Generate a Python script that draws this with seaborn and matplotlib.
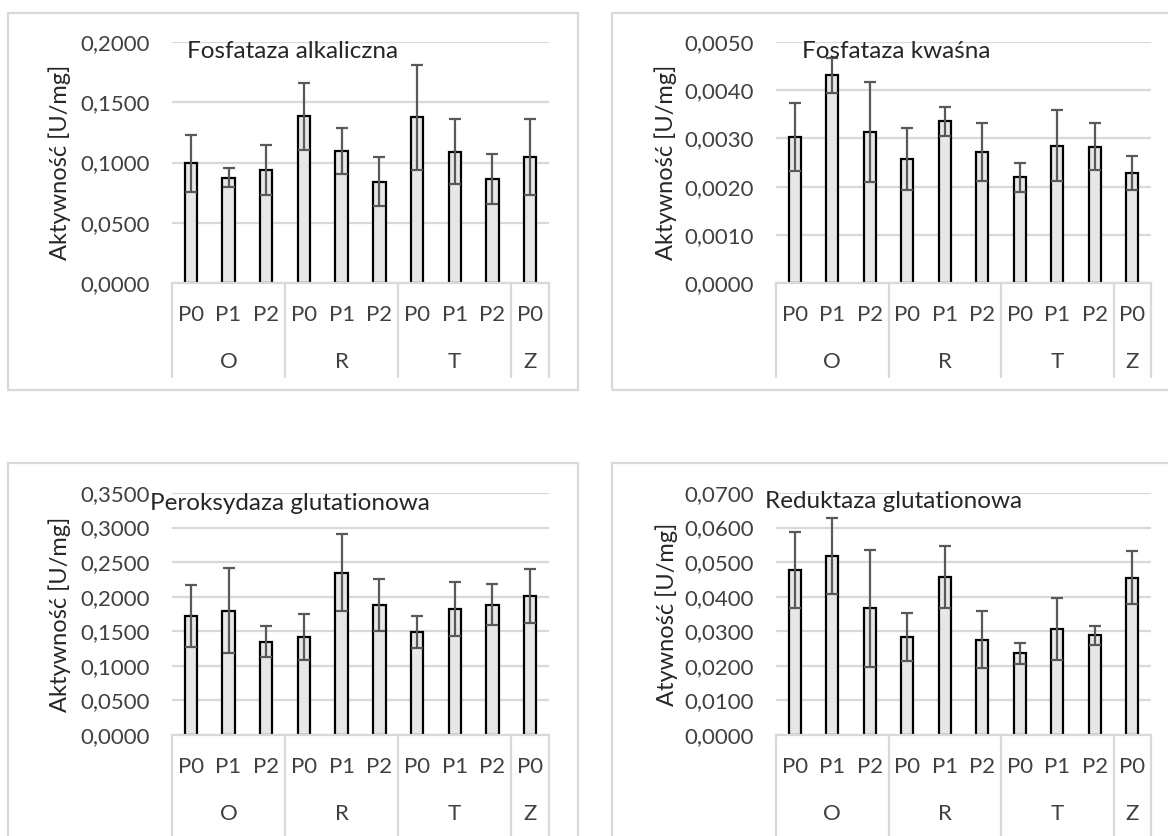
import numpy as np
import pandas as pd
import matplotlib
matplotlib.use("Agg")
import matplotlib.pyplot as plt
from matplotlib.patches import Rectangle
import seaborn as sns

# Categories (two-level axis, Excel style)
groups = ["O", "O", "O", "R", "R", "R", "T", "T", "T", "Z"]
subs = ["P0", "P1", "P2", "P0", "P1", "P2", "P0", "P1", "P2", "P0"]

# Fosfataza alkaliczna
alk_mean = [0.0993, 0.0874, 0.0938, 0.1385, 0.1098, 0.0841, 0.1374, 0.1090, 0.0863, 0.1048]
alk_sd = [0.0235, 0.0080, 0.0205, 0.0278, 0.0192, 0.0205, 0.0437, 0.0272, 0.0210, 0.0315]

# Fosfataza kwaśna
kw_mean = [0.00303, 0.00431, 0.00314, 0.00257, 0.00336, 0.00272, 0.00219, 0.00285, 0.00283, 0.00228]
kw_sd = [0.00070, 0.00036, 0.00104, 0.00065, 0.00030, 0.00060, 0.00031, 0.00073, 0.00048, 0.00035]

# Peroksydaza glutationowa
gpx_mean = [0.1719, 0.1796, 0.1348, 0.1420, 0.2349, 0.1887, 0.1492, 0.1829, 0.1887, 0.2012]
gpx_sd = [0.0447, 0.0616, 0.0226, 0.0330, 0.0559, 0.0376, 0.0236, 0.0390, 0.0296, 0.0390]

# Reduktaza glutationowa
gr_mean = [0.0477, 0.0517, 0.0366, 0.0284, 0.0458, 0.0276, 0.0236, 0.0306, 0.0288, 0.0455]
gr_sd = [0.0111, 0.0110, 0.0168, 0.0070, 0.0090, 0.0082, 0.0031, 0.0090, 0.0027, 0.0077]

sns.set_theme(style="white")
plt.rcParams['font.family'] = ['Lato', 'DejaVu Sans']

GRID = "#d9d9d9"
TICK_FS = 16
TITLE_FS = 17.5
LABEL_FS = 16

fig = plt.figure(figsize=(11.68, 8.36), dpi=100)

def px(x0, y_top, x1, y_bot):
    # pixel box -> figure fraction [left, bottom, width, height]
    W, H = 1168, 836
    return [x0 / W, 1 - y_bot / H, (x1 - x0) / W, (y_bot - y_top) / H]

panels = [
    dict(mean=alk_mean, sd=alk_sd, title="Fosfataza alkaliczna", ylabel="Aktywność [U/mg]",
         ymax=0.2, step=0.05, box=px(172, 42, 549, 283), frame=px(8, 13, 578, 390),
         tx=187, ty=52, ylx=60, sep=94),
    dict(mean=kw_mean, sd=kw_sd, title="Fosfataza kwaśna", ylabel="Aktywność [U/mg]",
         ymax=0.005, step=0.001, box=px(776, 42, 1151, 283), frame=px(612, 13, 1190, 390),
         tx=802, ty=52, ylx=666, sep=94),
    dict(mean=gpx_mean, sd=gpx_sd, title="Peroksydaza glutationowa", ylabel="Aktywność [U/mg]",
         ymax=0.35, step=0.05, box=px(172, 493, 549, 735), frame=px(8, 463, 578, 900),
         tx=150, ty=503, ylx=60, sep=120),
    dict(mean=gr_mean, sd=gr_sd, title="Reduktaza glutationowa", ylabel="Atywność [U/mg]",
         ymax=0.07, step=0.01, box=px(776, 493, 1151, 735), frame=px(612, 463, 1190, 900),
         tx=765, ty=502, ylx=667, sep=120),
]

for p in panels:
    # panel frame
    fig.add_artist(Rectangle((p["frame"][0], p["frame"][1]), p["frame"][2], p["frame"][3],
                             transform=fig.transFigure, fill=False, edgecolor=GRID, lw=1.6))

    ax = fig.add_axes(p["box"])
    df = pd.DataFrame({"group": groups, "sub": subs, "value": p["mean"], "sd": p["sd"]})
    df["key"] = df["group"] + " " + df["sub"]

    sns.barplot(data=df, x="key", y="value", order=list(df["key"]), color="#e7e7e7",
                saturation=1, edgecolor="black", linewidth=1.6, width=0.33,
                errorbar=None, ax=ax, zorder=2)
    ax.errorbar(np.arange(len(df)), df["value"], yerr=df["sd"], fmt="none",
                ecolor="#595959", elinewidth=1.6, capsize=4.5, capthick=1.6, zorder=3)

    ax.set_xlim(-0.5, len(df) - 0.5)
    ax.set_ylim(0, p["ymax"])
    ticks = np.arange(0, p["ymax"] + p["step"] / 2, p["step"])
    ax.set_yticks(ticks)
    ax.set_yticklabels([f"{t:.4f}".replace(".", ",") for t in ticks], fontsize=TICK_FS, color="#404040")
    ax.tick_params(axis="y", length=0, pad=16)
    ax.yaxis.grid(True, color=GRID, lw=1.6)
    ax.set_axisbelow(True)
    for s in ["top", "right", "left"]:
        ax.spines[s].set_visible(False)
    ax.spines["bottom"].set_color(GRID)
    ax.spines["bottom"].set_linewidth(1.6)
    ax.set_xticks([])
    ax.set_xlabel("")

    # y label
    ax.set_ylabel(p["ylabel"], fontsize=LABEL_FS + 1, color="#262626")
    x_lab = (p["ylx"] - p["box"][0] * 1168) / (p["box"][2] * 1168)
    ax.yaxis.set_label_coords(x_lab, 0.5)
    ax.yaxis.label.set_va("center")

    # title inside plot
    h_px = p["box"][3] * 836
    bot_px = (1 - p["box"][1]) * 836
    tx = (p["tx"] - p["box"][0] * 1168) / (p["box"][2] * 1168)
    ty = (bot_px - p["ty"]) / h_px
    ax.text(tx, ty, p["title"], transform=ax.transAxes, ha="left", va="center",
            fontsize=TITLE_FS, color="#262626", clip_on=False)

    # two-level category axis
    trans = ax.get_xaxis_transform()
    for i, s in enumerate(df["sub"]):
        ax.text(i, -32 / h_px, s, transform=trans, ha="center", va="center",
                fontsize=LABEL_FS, color="#404040", clip_on=False)
    edges = [-0.5]
    centers = []
    start = 0
    for i in range(1, len(df) + 1):
        if i == len(df) or df["group"][i] != df["group"][start]:
            centers.append(((start + i - 1) / 2, df["group"][start]))
            edges.append(i - 0.5)
            start = i
    for c, g in centers:
        ax.text(c, -79 / h_px, g, transform=trans, ha="center", va="center",
                fontsize=LABEL_FS, color="#404040", clip_on=False)
    for e in edges:
        ax.plot([e, e], [0, -p["sep"] / h_px], transform=trans, color=GRID, lw=1.6,
                clip_on=False)

fig.savefig("out.png", dpi=100)
